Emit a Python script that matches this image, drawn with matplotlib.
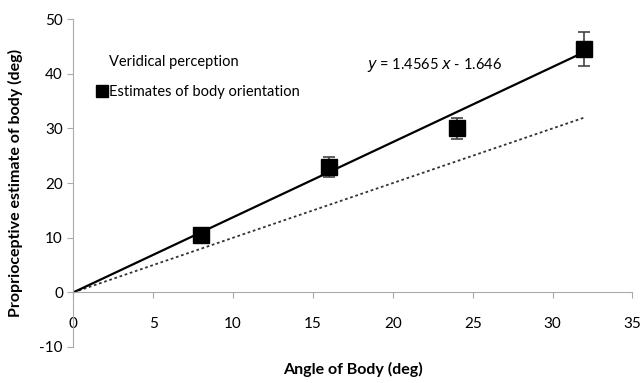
import matplotlib.pyplot as plt
from matplotlib.lines import Line2D

plt.rcParams['font.family'] = ['Lato', 'DejaVu Sans']
plt.rcParams['axes.unicode_minus'] = False

# data
body_angle = [8, 16, 24, 32]
estimate = [10.5, 23.0, 30.0, 44.5]
estimate_err = [1.0, 1.8, 1.9, 3.1]
veridical_x = [0, 32]
veridical_y = [0, 32]
fit_x = [0, 32]
fit_y = [0, 44.0]

fig = plt.figure(figsize=(6.44, 3.83), dpi=100)
ax = fig.add_axes([0.114, 0.094, 0.868, 0.856])

ax.plot(veridical_x, veridical_y, linestyle=(0, (1.5, 1.5)), color="#333333", lw=1.3)
ax.plot(fit_x, fit_y, "-", color="black", lw=1.6)
ax.errorbar(body_angle, estimate, yerr=estimate_err, fmt="s", color="black",
            ms=11.5, ecolor="#444444", elinewidth=1.2, capsize=4, capthick=1.2)

ax.text(18.4, 41.6, r"$y$ = 1.4565 $x$ - 1.646", fontsize=10.5, va="center")

ax.set_xlim(0, 35)
ax.set_ylim(-10, 50)
ax.set_xticks(range(0, 36, 5))
ax.set_yticks(range(-10, 51, 10))

for s in ["top", "right"]:
    ax.spines[s].set_visible(False)
ax.spines["bottom"].set_position(("data", 0))
ax.spines["bottom"].set_color("#aaaaaa")
ax.spines["left"].set_color("#aaaaaa")
ax.tick_params(axis="both", colors="#aaaaaa", labelcolor="black", labelsize=11,
               length=4, direction="out")
ax.tick_params(axis="x", pad=14)

ax.set_xlabel("Angle of Body (deg)", fontsize=11.5, fontweight="bold")
ax.set_ylabel("Proprioceptive estimate of body (deg)", fontsize=11.5, fontweight="bold",
              labelpad=12)
ax.xaxis.set_label_coords(0.5, -0.045)

handles = [Line2D([], [], linestyle="none"),
           Line2D([], [], linestyle="none", marker="s", color="black", ms=8)]
labels = ["Veridical perception", "Estimates of body orientation"]
ax.legend(handles, labels, loc="upper left", bbox_to_anchor=(0.02, 0.93),
          frameon=False, fontsize=10.5, handlelength=0.6, handletextpad=0.2,
          labelspacing=1.1)

fig.savefig("out.png", dpi=100)
